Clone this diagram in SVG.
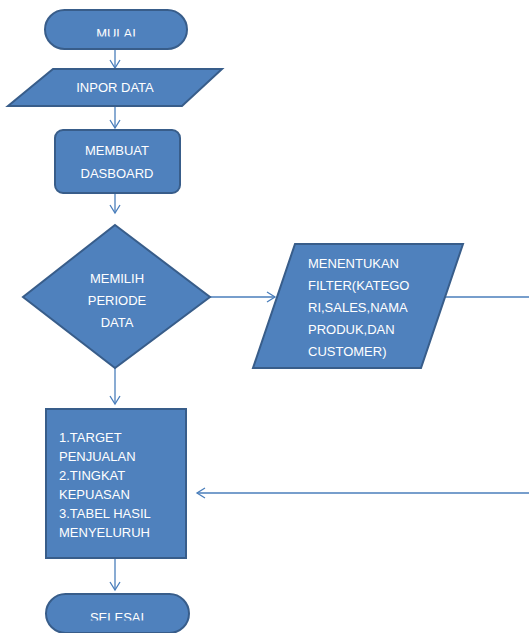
<svg xmlns="http://www.w3.org/2000/svg" width="529" height="633" viewBox="0 0 529 633">
<style>
.shape{fill:#4F81BD;stroke:#385D8A;stroke-width:2}
.t{fill:#fff;font-family:"Liberation Sans",Arial,sans-serif;font-size:13px}
.c{text-anchor:middle}
.conn{fill:none;stroke:#4A7EBB;stroke-width:1.3}
</style>
<defs>
<marker id="arr" markerWidth="12" markerHeight="12" refX="10" refY="6" orient="auto" markerUnits="userSpaceOnUse">
<polyline points="2,1 10,6 2,11" fill="none" stroke="#4A7EBB" stroke-width="1.3"/>
</marker>
<clipPath id="clipTop"><rect x="0" y="0" width="529" height="36.5"/></clipPath>
<clipPath id="clipBot"><rect x="0" y="0" width="529" height="620.5"/></clipPath>
</defs>
<g id="connectors">
<line class="conn" x1="115" y1="49" x2="115" y2="68" marker-end="url(#arr)"/>
<line class="conn" x1="115" y1="106" x2="115" y2="128" marker-end="url(#arr)"/>
<line class="conn" x1="115" y1="193" x2="115" y2="213" marker-end="url(#arr)"/>
<line class="conn" x1="115" y1="368" x2="115" y2="404" marker-end="url(#arr)"/>
<line class="conn" x1="210" y1="297" x2="275" y2="297" marker-end="url(#arr)"/>
<line class="conn" x1="442" y1="297" x2="529" y2="297"/>
<line class="conn" x1="529" y1="493" x2="197" y2="493" marker-end="url(#arr)"/>
<line class="conn" x1="115" y1="558" x2="115" y2="590" marker-end="url(#arr)"/>
</g>
<g id="mulai">
<rect class="shape" x="45" y="10" width="142" height="39" rx="19.5"/>
<text class="t c" x="116" y="38" clip-path="url(#clipTop)">MULAI</text>
</g>
<g id="inpor">
<polygon class="shape" points="53,69 222,69 182,106 8,106"/>
<text class="t c" x="115" y="92">INPOR DATA</text>
</g>
<g id="dashboard">
<rect class="shape" x="55" y="130" width="125" height="63" rx="8"/>
<text class="t c" x="117" y="155">MEMBUAT</text>
<text class="t c" x="117" y="178">DASBOARD</text>
</g>
<g id="periode">
<polygon class="shape" points="115,225 210,297 115,368 23,297"/>
<text class="t c" x="117" y="283">MEMILIH</text>
<text class="t c" x="117" y="305">PERIODE</text>
<text class="t c" x="117" y="327">DATA</text>
</g>
<g id="filter">
<polygon class="shape" points="295,244 463,244 421,368 253,368"/>
<text class="t" x="308" y="268">MENENTUKAN</text>
<text class="t" x="308" y="290">FILTER(KATEGO</text>
<text class="t" x="308" y="312">RI,SALES,NAMA</text>
<text class="t" x="308" y="334">PRODUK,DAN</text>
<text class="t" x="308" y="356">CUSTOMER)</text>
</g>
<g id="hasil">
<rect class="shape" x="46" y="409" width="140" height="149"/>
<text class="t" x="59" y="442">1.TARGET</text>
<text class="t" x="59" y="461">PENJUALAN</text>
<text class="t" x="59" y="480">2.TINGKAT</text>
<text class="t" x="59" y="499">KEPUASAN</text>
<text class="t" x="59" y="518">3.TABEL HASIL</text>
<text class="t" x="59" y="537">MENYELURUH</text>
</g>
<g id="selesai">
<rect class="shape" x="46" y="594" width="143" height="39" rx="19.5"/>
<text class="t c" x="117" y="622" clip-path="url(#clipBot)">SELESAI</text>
</g>
</svg>
